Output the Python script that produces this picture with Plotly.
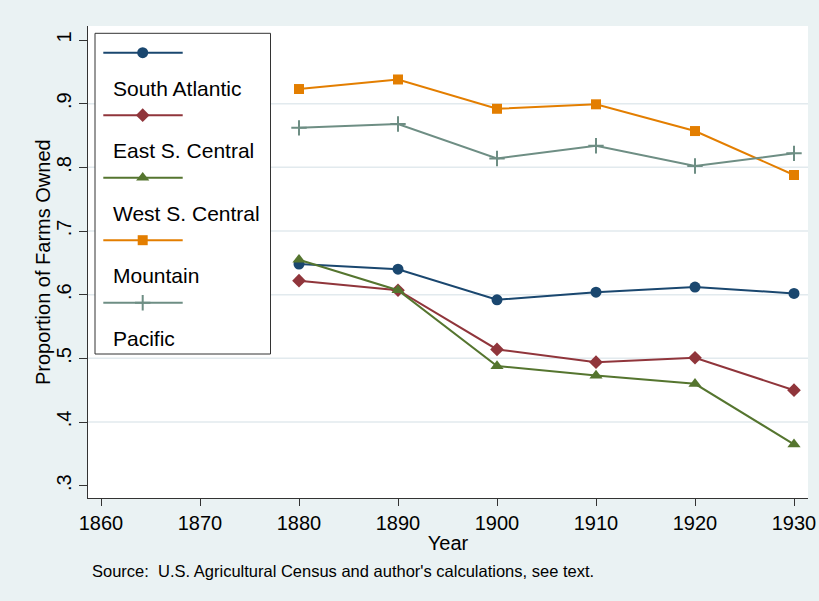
import plotly.graph_objects as go

# ---------------- data ----------------
years = [1880, 1890, 1900, 1910, 1920, 1930]
regions = ["South Atlantic", "East S. Central", "West S. Central", "Mountain", "Pacific"]
south_atlantic = [0.648, 0.640, 0.592, 0.604, 0.612, 0.602]
east_s_central = [0.622, 0.607, 0.514, 0.494, 0.501, 0.450]
west_s_central = [0.655, 0.607, 0.488, 0.473, 0.460, 0.365]
mountain = [0.923, 0.938, 0.892, 0.899, 0.857, 0.788]
pacific = [0.862, 0.868, 0.814, 0.834, 0.802, 0.822]
x_ticks = [1860, 1870, 1880, 1890, 1900, 1910, 1920, 1930]
y_ticks = [0.3, 0.4, 0.5, 0.6, 0.7, 0.8, 0.9, 1.0]
y_ticktext = [".3", ".4", ".5", ".6", ".7", ".8", ".9", "1"]
grid_vals = [0.4, 0.5, 0.6, 0.7, 0.8, 0.9]
y_title = "Proportion of Farms Owned"
x_title = "Year"
source_note = "Source:&nbsp; U.S. Agricultural Census and author's calculations, see text."

values = [south_atlantic, east_s_central, west_s_central, mountain, pacific]

# ---------------- styles ----------------
FONT = "Liberation Sans, Arial, sans-serif"
colors = ["#1a476f", "#90353b", "#55752f", "#e37e00", "#6e8e84"]
symbols = ["circle", "diamond", "triangle-up", "square", "cross-thin"]
sizes = [11, 10.5, 11.5, 10, 11]
BG = "#eaf2f3"


def marker_style(c, s, sz):
    return dict(symbol=s, size=sz, color=c,
                line=dict(color=c, width=2 if s == "cross-thin" else 0))


fig = go.Figure()

for name, vals, c, s, sz in zip(regions, values, colors, symbols, sizes):
    fig.add_trace(go.Scatter(
        x=years, y=vals, name=name, mode="lines+markers",
        line=dict(color=c, width=2),
        marker=marker_style(c, s, sz),
        showlegend=False, hoverinfo="x+y+name",
    ))

# ---------------- hand-built legend (Stata style: key above its label) ----------------
# overlay axes expressed in pixel units of the plot area
L, R, T, B = 88, 808, 26, 498
box = dict(x0=95, x1=270.5, y0=33.3, y1=354)
key_line_x = [103.3, 182.7]
key_mark_x = 142.7
key_y0, step, label_dy, label_x = 52.7, 62.5, 35.5, 110.5

shapes = []
for gv in grid_vals:
    shapes.append(dict(type="line", xref="paper", yref="y", x0=0, x1=1, y0=gv, y1=gv,
                       line=dict(color="#e2eaee", width=1.5), layer="below"))
shapes.append(dict(type="rect", xref="x2", yref="y2", **box,
                   fillcolor="white", line=dict(color="#333333", width=1), layer="below"))

annotations = []
for i, (name, c, s, sz) in enumerate(zip(regions, colors, symbols, sizes)):
    ky = key_y0 + i * step
    fig.add_trace(go.Scatter(
        x=key_line_x, y=[ky, ky], xaxis="x2", yaxis="y2", mode="lines",
        line=dict(color=c, width=2), showlegend=False, hoverinfo="skip",
    ))
    fig.add_trace(go.Scatter(
        x=[key_mark_x], y=[ky], xaxis="x2", yaxis="y2", mode="markers",
        marker=marker_style(c, s, sz), showlegend=False, hoverinfo="skip",
    ))
    annotations.append(dict(xref="x2", yref="y2", x=label_x, y=ky + label_dy, text=name,
                            showarrow=False, xanchor="left", yanchor="middle",
                            font=dict(family=FONT, size=21, color="black")))

# y-axis title (placed as rotated text, like Stata's)
annotations.append(dict(xref="paper", yref="paper", x=(43 - L) / (R - L), y=0.5,
                        text=y_title, textangle=-90, showarrow=False,
                        xanchor="center", yanchor="middle",
                        font=dict(family=FONT, size=20, color="black")))
annotations.append(dict(xref="paper", yref="paper", x=(90 - L) / (R - L), y=-(571 - B) / (B - T),
                        text=source_note, showarrow=False, xanchor="left", yanchor="middle",
                        font=dict(family=FONT, size=16.5, color="black")))

x0 = 1860 - (101 - L) / 9.9
x1 = 1930 + (R - 794) / 9.9
ppu = (485.7 - 40) / 0.7
y0 = 0.3 - (B - 485.7) / ppu
y1 = 1.0 + (40 - T) / ppu

fig.update_layout(
    width=819, height=601,
    margin=dict(l=L, r=819 - R, t=T, b=601 - B, autoexpand=False),
    paper_bgcolor=BG, plot_bgcolor="white",
    font=dict(family=FONT, size=20, color="black"),
    shapes=shapes, annotations=annotations,
    showlegend=False,
    xaxis=dict(range=[x0, x1], tickvals=x_ticks, ticks="outside", ticklen=7, tickwidth=1,
               tickcolor="#333333", showline=True, linecolor="#333333", linewidth=1,
               showgrid=False, zeroline=False, tickfont=dict(size=20), automargin=False,
               title=dict(text=x_title, font=dict(size=20), standoff=2)),
    yaxis=dict(range=[y0, y1], tickvals=y_ticks, ticktext=y_ticktext, tickangle=-90,
               ticks="outside", ticklen=8, tickwidth=1, tickcolor="#333333",
               showline=True, linecolor="#333333", linewidth=1, showgrid=False, zeroline=False,
               tickfont=dict(size=20), automargin=False),
    xaxis2=dict(overlaying="x", anchor="y2", range=[L, R], visible=False, fixedrange=True,
                automargin=False),
    yaxis2=dict(overlaying="y", anchor="x2", range=[B, T], visible=False, fixedrange=True,
                automargin=False),
)

fig.write_html("out.html", config={"displayModeBar": False},
               post_script="document.body.style.margin='0';")
